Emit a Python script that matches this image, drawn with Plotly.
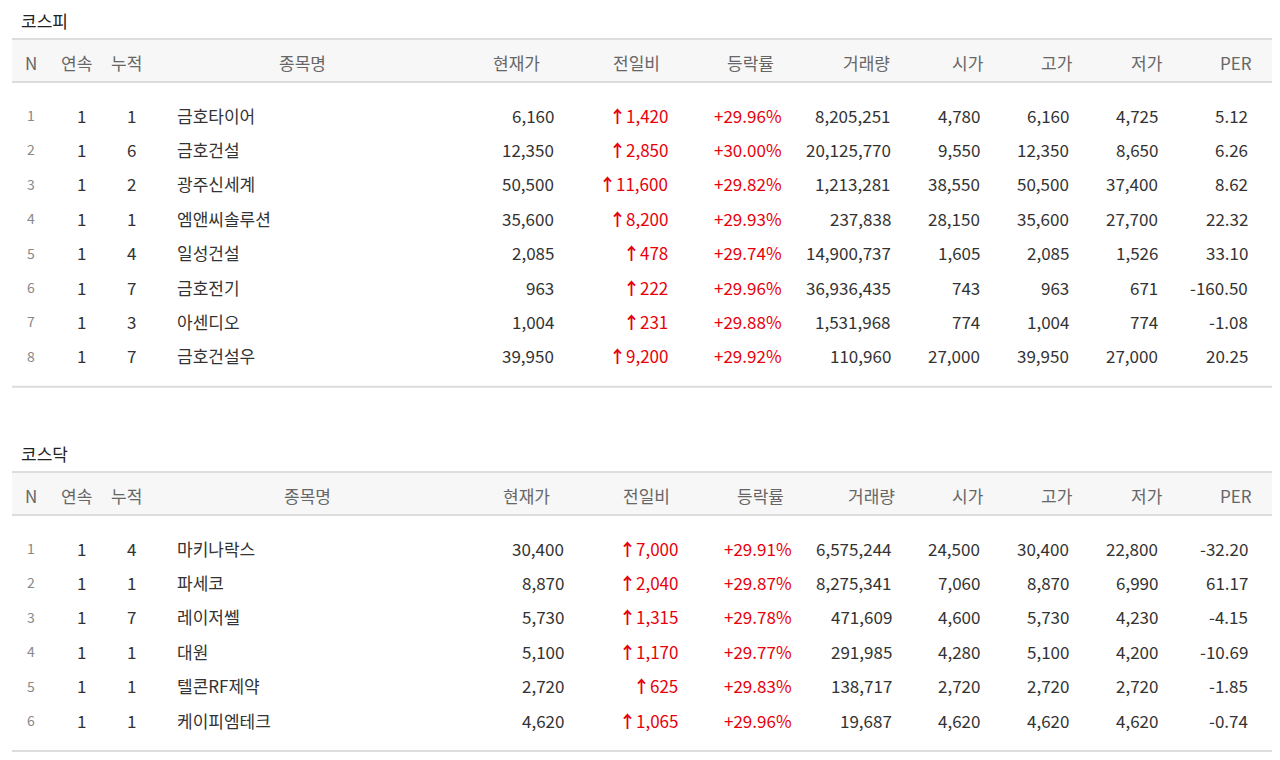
import plotly.graph_objects as go

headers = ["N", "연속", "누적", "종목명", "현재가", "전일비", "등락률", "거래량", "시가", "고가", "저가", "PER"]

kospi_names = ["금호타이어", "금호건설", "광주신세계", "엠앤씨솔루션", "일성건설", "금호전기", "아센디오", "금호건설우"]
kospi_streak = [1, 1, 1, 1, 1, 1, 1, 1]
kospi_cum = [1, 6, 2, 1, 4, 7, 3, 7]
kospi_price = ["6,160", "12,350", "50,500", "35,600", "2,085", "963", "1,004", "39,950"]
kospi_change = ["1,420", "2,850", "11,600", "8,200", "478", "222", "231", "9,200"]
kospi_rate = ["+29.96%", "+30.00%", "+29.82%", "+29.93%", "+29.74%", "+29.96%", "+29.88%", "+29.92%"]
kospi_volume = ["8,205,251", "20,125,770", "1,213,281", "237,838", "14,900,737", "36,936,435", "1,531,968", "110,960"]
kospi_open = ["4,780", "9,550", "38,550", "28,150", "1,605", "743", "774", "27,000"]
kospi_high = ["6,160", "12,350", "50,500", "35,600", "2,085", "963", "1,004", "39,950"]
kospi_low = ["4,725", "8,650", "37,400", "27,700", "1,526", "671", "774", "27,000"]
kospi_per = ["5.12", "6.26", "8.62", "22.32", "33.10", "-160.50", "-1.08", "20.25"]

kosdaq_names = ["마키나락스", "파세코", "레이저쎌", "대원", "텔콘RF제약", "케이피엠테크"]
kosdaq_streak = [1, 1, 1, 1, 1, 1]
kosdaq_cum = [4, 1, 7, 1, 1, 1]
kosdaq_price = ["30,400", "8,870", "5,730", "5,100", "2,720", "4,620"]
kosdaq_change = ["7,000", "2,040", "1,315", "1,170", "625", "1,065"]
kosdaq_rate = ["+29.91%", "+29.87%", "+29.78%", "+29.77%", "+29.83%", "+29.96%"]
kosdaq_volume = ["6,575,244", "8,275,341", "471,609", "291,985", "138,717", "19,687"]
kosdaq_open = ["24,500", "7,060", "4,600", "4,280", "2,720", "4,620"]
kosdaq_high = ["30,400", "8,870", "5,730", "5,100", "2,720", "4,620"]
kosdaq_low = ["22,800", "6,990", "4,230", "4,200", "2,720", "4,620"]
kosdaq_per = ["-32.20", "61.17", "-4.15", "-10.69", "-1.85", "-0.74"]

FONT = "Noto Sans CJK KR, Malgun Gothic, sans-serif"
RED = "#e8000b"
TXT = "#333333"
HDR = "#666666"

fig = go.Figure()
shapes = []
ann = []

def add(x, y, text, color=TXT, size=17, xanchor="center"):
    ann.append(dict(x=x, y=y, xref="x", yref="y", text=text, showarrow=False,
                    xanchor=xanchor, yanchor="middle",
                    font=dict(family=FONT, size=size, color=color)))

def section(title, top, data, hdr_x, col_r):
    names, streak, cum, price, chg, rate, vol, op, hi, lo, per = data
    add(19, top - 19, title, "#222", 17, "left")
    shapes.append(dict(type="rect", x0=12, x1=1290, y0=top, y1=top + 43, xref="x", yref="y",
                       fillcolor="#f7f7f7", line=dict(width=0), layer="below"))
    for yy in (top, top + 43):
        shapes.append(dict(type="line", x0=12, x1=1290, y0=yy, y1=yy, xref="x", yref="y",
                           line=dict(color="#dddddd", width=2)))
    for h, x in zip(headers, hdr_x):
        add(x, top + 23, h, HDR, 17)
    y0 = top + 76
    step = 34.4
    for i in range(len(names)):
        y = y0 + i * step
        add(31, y, str(i + 1), "#888", 14)
        add(81, y, str(streak[i]))
        add(131, y, str(cum[i]))
        add(175, y, names[i], TXT, 17, "left")
        add(col_r[0], y, price[i], TXT, 17, "right")
        add(col_r[1], y, "<b>↑</b>" + chg[i], RED, 17, "right")
        add(col_r[2], y, rate[i], RED, 17, "right")
        for j, arr in enumerate([vol, op, hi, lo, per]):
            add(col_r[3 + j], y, arr[i], TXT, 17, "right")
    bot = y0 + (len(names) - 1) * step + 31
    shapes.append(dict(type="line", x0=12, x1=1290, y0=bot, y1=bot, xref="x", yref="y",
                       line=dict(color="#dddddd", width=2)))

section("코스피", 39,
        (kospi_names, kospi_streak, kospi_cum, kospi_price, kospi_change, kospi_rate,
         kospi_volume, kospi_open, kospi_high, kospi_low, kospi_per),
        [31, 76, 126, 302, 516, 636, 750, 866, 968, 1057, 1147, 1236],
        [556, 670, 784, 893, 982, 1071, 1160, 1250])
section("코스닥", 472,
        (kosdaq_names, kosdaq_streak, kosdaq_cum, kosdaq_price, kosdaq_change, kosdaq_rate,
         kosdaq_volume, kosdaq_open, kosdaq_high, kosdaq_low, kosdaq_per),
        [31, 76, 126, 307, 526, 646, 760, 871, 968, 1057, 1147, 1236],
        [566, 680, 794, 894, 982, 1071, 1160, 1250])

fig.update_layout(width=1280, height=760, margin=dict(l=0, r=0, t=0, b=0),
                  paper_bgcolor="white", plot_bgcolor="white",
                  xaxis=dict(range=[8, 1288], visible=False, fixedrange=True),
                  yaxis=dict(range=[768, 8], visible=False, fixedrange=True),
                  shapes=shapes, annotations=ann, showlegend=False)
fig.write_html("out.html", config=dict(displayModeBar=False))
